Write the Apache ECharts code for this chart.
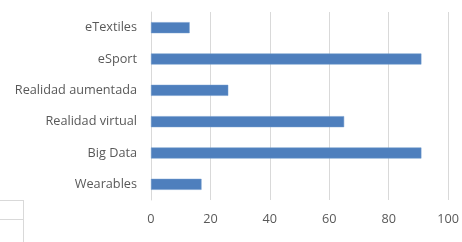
<!DOCTYPE html>
<html>
<head>
<meta charset="utf-8">
<script src="https://cdn.jsdelivr.net/npm/echarts@6/dist/echarts.min.js"></script>
<style>html,body{margin:0;padding:0;background:#fff;}#c{width:462px;height:242px;}</style>
</head>
<body>
<div id="c"></div>
<script>
var categories = ["Wearables", "Big Data", "Realidad virtual", "Realidad aumentada", "eSport", "eTextiles"];
var values = [17, 91, 65, 26, 91, 13];
var xTicks = [0, 20, 40, 60, 80, 100];

var chart = echarts.init(document.getElementById('c'), null, {renderer: 'canvas'});
chart.setOption({
  animation: false,
  grid: {left: 151, right: 11, top: 12, bottom: 42, containLabel: false},
  xAxis: {
    type: 'value', min: xTicks[0], max: xTicks[xTicks.length - 1], interval: 20,
    axisLine: {show: false}, axisTick: {show: false},
    splitLine: {lineStyle: {color: '#d9d9d9', width: 1}},
    axisLabel: {color: '#595959', fontSize: 12.7, fontFamily: 'Open Sans', margin: 13}
  },
  yAxis: {
    type: 'category', data: categories,
    axisLine: {show: true, lineStyle: {color: '#d9d9d9'}}, axisTick: {show: false},
    axisLabel: {color: '#595959', fontSize: 12.7, fontFamily: 'Open Sans', margin: 14}
  },
  series: [{
    type: 'bar', data: values, barWidth: 11,
    itemStyle: {color: '#4e7fbd', borderColor: '#6f98cc', borderWidth: 0.5}
  }],
  graphic: [
    {type: 'line', shape: {x1: 0, y1: 200.5, x2: 23.5, y2: 200.5}, style: {stroke: '#d9d9d9', lineWidth: 1}},
    {type: 'line', shape: {x1: 0, y1: 219.5, x2: 23.5, y2: 219.5}, style: {stroke: '#d9d9d9', lineWidth: 1}},
    {type: 'line', shape: {x1: 23.5, y1: 200, x2: 23.5, y2: 242}, style: {stroke: '#d9d9d9', lineWidth: 1}}
  ]
});
</script>
</body>
</html>
